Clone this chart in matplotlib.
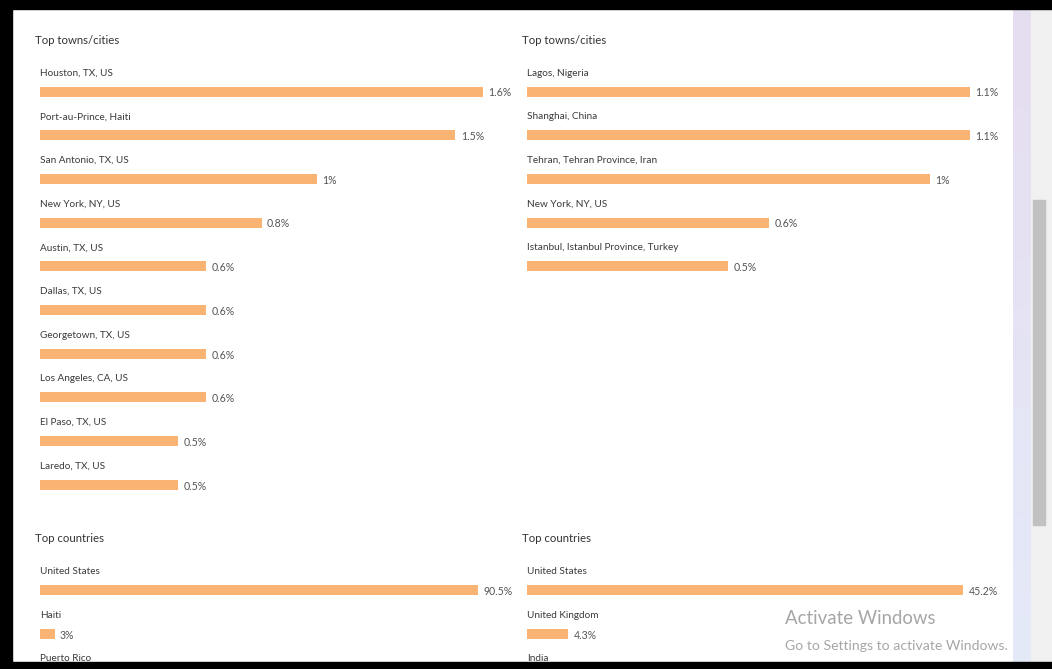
import numpy as np
import matplotlib
matplotlib.use("Agg")
import matplotlib.pyplot as plt
from matplotlib.patches import Rectangle

plt.rcParams['font.family'] = ['Lato', 'DejaVu Sans']

# data
towns_left = ["Houston, TX, US", "Port-au-Prince, Haiti", "San Antonio, TX, US",
              "New York, NY, US", "Austin, TX, US", "Dallas, TX, US",
              "Georgetown, TX, US", "Los Angeles, CA, US", "El Paso, TX, US",
              "Laredo, TX, US"]
towns_left_vals = [1.6, 1.5, 1.0, 0.8, 0.6, 0.6, 0.6, 0.6, 0.5, 0.5]

towns_right = ["Lagos, Nigeria", "Shanghai, China", "Tehran, Tehran Province, Iran",
               "New York, NY, US", "Istanbul, Istanbul Province, Turkey"]
towns_right_vals = [1.1, 1.1, 1.0, 0.6, 0.5]

countries_left = ["United States", "Haiti", "Puerto Rico"]
countries_left_vals = [90.5, 3.0]

countries_right = ["United States", "United Kingdom", "India"]
countries_right_vals = [45.2, 4.3]

W, H = 1052, 669
BAR = "#f9b473"
fig = plt.figure(figsize=(W / 100, H / 100), dpi=100)
fig.patch.set_facecolor("white")


def fmt(v):
    s = f"{v:.1f}".rstrip("0").rstrip(".")
    return s + "%"


def panel(x0, ybar0, names, vals, width_px, step=43.7):
    n = len(names)
    top = ybar0 - step / 2
    bottom = ybar0 + (n - 0.5) * step
    ax = fig.add_axes([x0 / W, 1 - bottom / H, width_px / W, (bottom - top) / H])
    ax.set_xlim(0, max(vals))
    ax.set_ylim(n - 0.5, -0.5)
    ax.axis("off")
    ax.patch.set_alpha(0)
    ax.barh(range(len(vals)), vals, height=10 / step, color=BAR, clip_on=False)
    for i, name in enumerate(names):
        ax.text(0, i - 18.5 / step, name, fontsize=7.2, color="#3a3a3a",
                va="center", ha="left", clip_on=False)
    for i, v in enumerate(vals):
        ax.annotate(fmt(v), (v, i), xytext=(4, -1), textcoords="offset points",
                    fontsize=7.6, color="#555555", va="center", ha="left")
    return ax


panel(40, 91.5, towns_left, towns_left_vals, 443)
panel(527, 91.5, towns_right, towns_right_vals, 443)
panel(40, 590, countries_left, countries_left_vals, 438)
panel(527, 590, countries_right, countries_right_vals, 436)

for x in (35, 522):
    fig.text(x / W, 1 - 41 / H, "Top towns/cities", fontsize=8.2, color="#333333", va="center")
    fig.text(x / W, 1 - 538 / H, "Top countries", fontsize=8.2, color="#333333", va="center")

# screen chrome: side strip, scrollbar, windows watermark, black frame
ov = fig.add_axes([0, 0, 1, 1], zorder=10)
ov.axis("off")
ov.patch.set_alpha(0)
grad = np.linspace(0, 1, 100)[:, None]
ov.imshow(grad, extent=(1013, 1031, H, 0), aspect="auto",
          cmap=matplotlib.colors.LinearSegmentedColormap.from_list("s", ["#e6ddf0", "#e4eaf9"]))
ov.add_patch(Rectangle((1031, 0), W - 1031, H, color="#f0f0f0"))
ov.add_patch(Rectangle((1033, 200), 12, 325, color="#c1c1c1"))
ov.text(785, 619, "Activate Windows", fontsize=13.4, color="#a6a6a6", va="center")
ov.text(785, 646, "Go to Settings to activate Windows.", fontsize=10.1, color="#a6a6a6",
        va="center")
ov.add_patch(Rectangle((0, 0), W, 9, color="black"))
ov.add_patch(Rectangle((0, 0), 12, H, color="black"))
ov.add_patch(Rectangle((0, 662), W, 7, color="black"))
ov.set_xlim(0, W)
ov.set_ylim(H, 0)

fig.savefig("out.png", dpi=100)
